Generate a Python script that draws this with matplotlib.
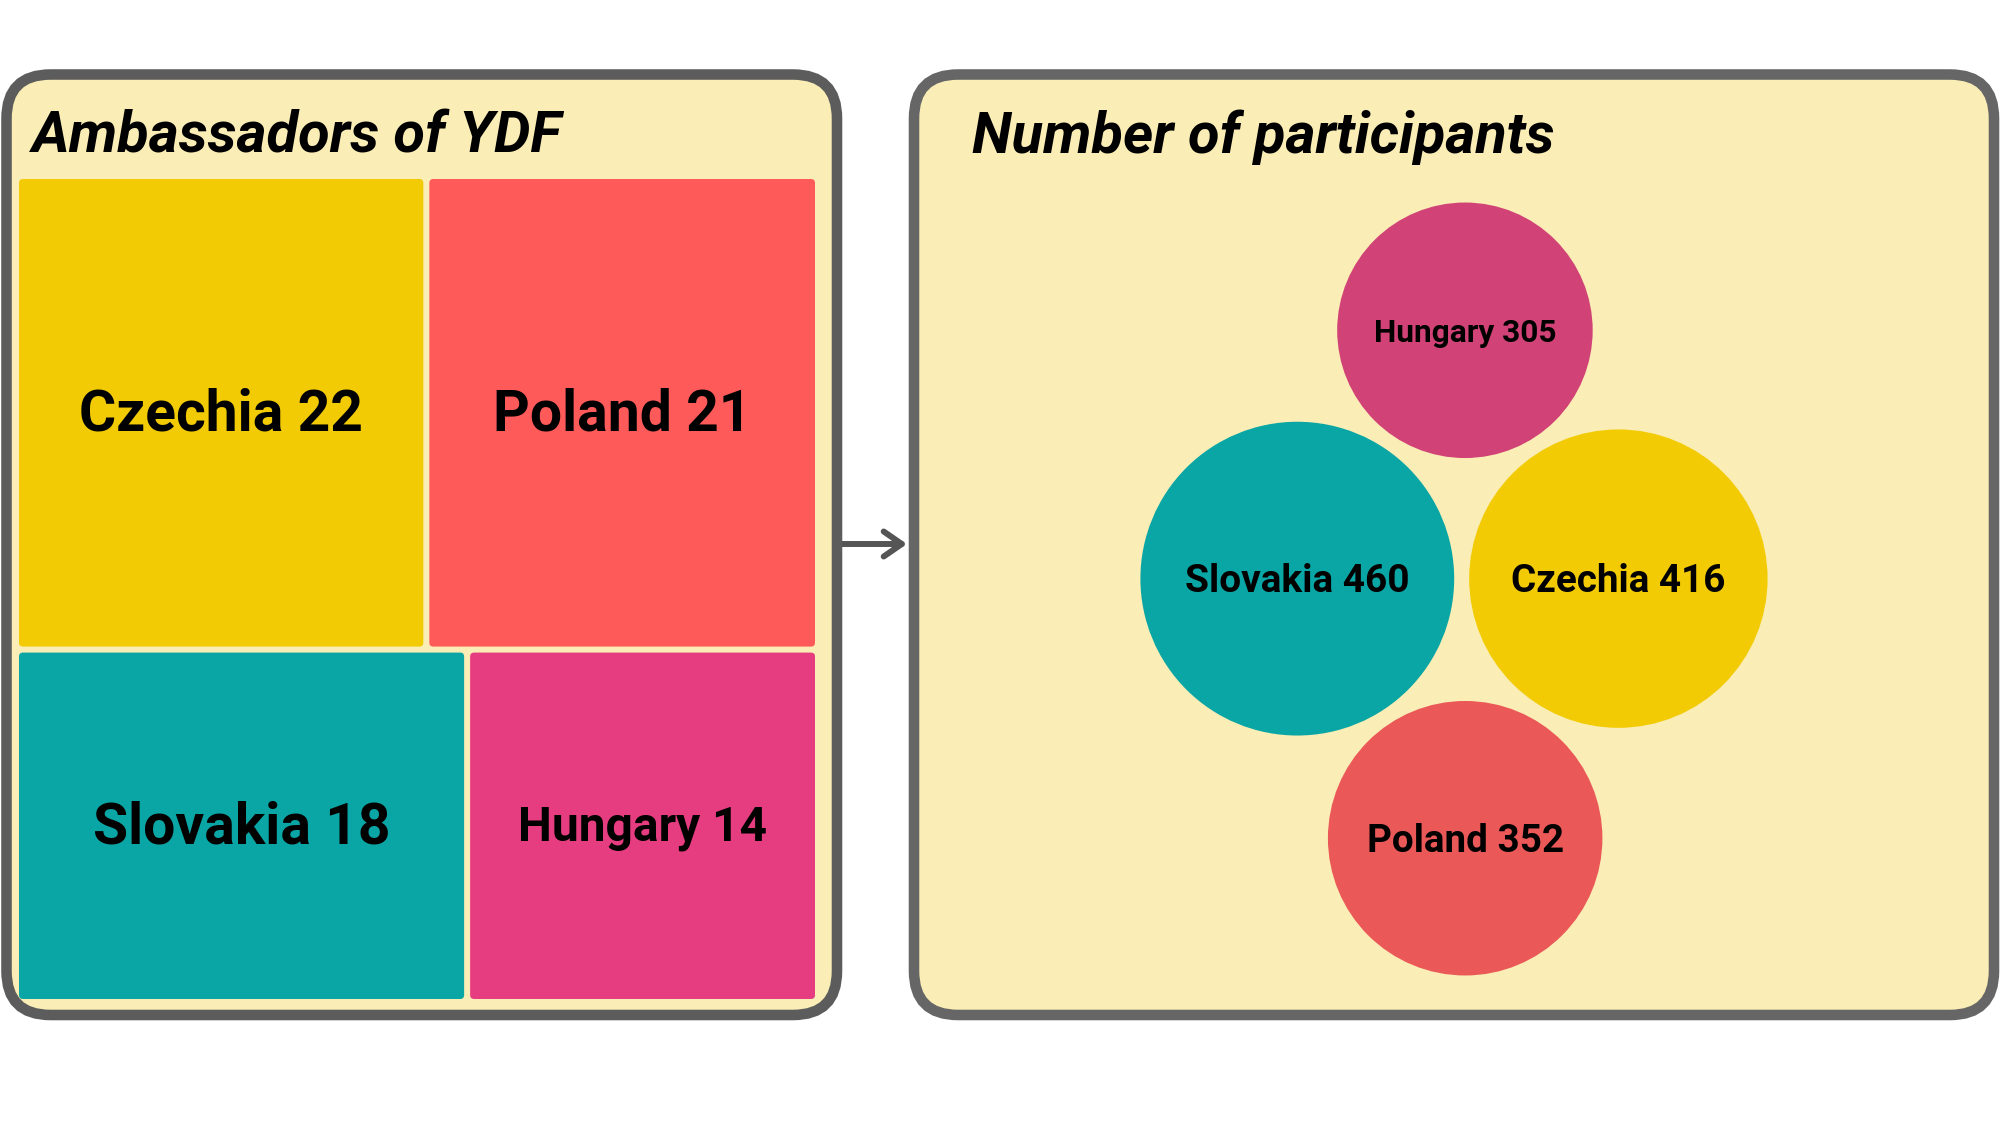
import numpy as np
import matplotlib
matplotlib.use("Agg")
import matplotlib.pyplot as plt
from matplotlib.patches import FancyBboxPatch, Circle

plt.rcParams['font.family'] = ['Roboto', 'DejaVu Sans']

# left panel: ambassadors per country (treemap)
amb_countries = ['Czechia', 'Poland', 'Slovakia', 'Hungary']
amb_values = [22, 21, 18, 14]
amb_colors = ['#F2CB05', '#FF5A5A', '#0AA6A6', '#E63C80']
amb_fontsize = [41, 41, 41, 34.5]

# right panel: participants per country (bubbles)
part_countries = ['Hungary', 'Slovakia', 'Czechia', 'Poland']
part_values = [305, 460, 416, 352]
part_colors = ['#D14377', '#0AA6A6', '#F2CB05', '#EB5858']
part_fontsize = [22.8, 28, 27.8, 27.8]

W, H = 2000, 1125
bg = '#FAEDB5'

fig = plt.figure(figsize=(20, 11.25), dpi=100)
ax = fig.add_axes([0, 0, 1, 1])
ax.set_xlim(0, W)
ax.set_ylim(H, 0)
ax.axis('off')


def panel(x0, y0, x1, y1, ec):
    p = FancyBboxPatch((x0, y0), x1 - x0, y1 - y0,
                       boxstyle='round,pad=0,rounding_size=44',
                       fc=bg, ec=ec, lw=7.6, zorder=1)
    ax.add_patch(p)


panel(6.5, 74.5, 837, 1015, '#5c5c5c')
panel(914, 74.5, 1994, 1015, '#666666')

ax.text(32, 137, 'Ambassadors of YDF', fontsize=41.6, fontweight='bold',
        fontstyle='italic', va='center', ha='left')
ax.text(972, 137, 'Number of participants', fontsize=41.6, fontweight='bold',
        fontstyle='italic', va='center', ha='left')

# arrow between panels
ax.annotate('', xy=(907, 544), xytext=(842, 544),
            arrowprops=dict(arrowstyle='->,head_length=1.3,head_width=0.9',
                            color='#555555', lw=4.3, capstyle='round',
                            joinstyle='round', shrinkA=0, shrinkB=0),
            zorder=0)

# treemap: two rows, squarified by hand
tx0, ty0, tx1, ty1 = 16, 176, 818, 1002
gap = 6
rows = [[0, 1], [2, 3]]
total = sum(amb_values)
y = ty0
for row in rows:
    rs = sum(amb_values[i] for i in row)
    h = (ty1 - ty0) * rs / total
    x = tx0
    for i in row:
        w = (tx1 - tx0) * amb_values[i] / rs
        ax.add_patch(FancyBboxPatch((x + gap / 2, y + gap / 2), w - gap, h - gap,
                                    boxstyle='round,pad=0,rounding_size=4',
                                    fc=amb_colors[i], ec='none', zorder=2))
        ax.text(x + w / 2, y + h / 2 + 2, f'{amb_countries[i]} {amb_values[i]}',
                ha='center', va='center', fontsize=amb_fontsize[i],
                fontweight='bold', zorder=3)
        x += w
    y += h

# bubbles: area ~ value, Slovakia & Czechia side by side,
# Hungary above and Poland below, touching both with a small gap
k = 7.315
g = 15
r = np.sqrt(np.array(part_values, dtype=float)) * k
iH, iS, iC, iP = 0, 1, 2, 3
pos = np.zeros((4, 2))
pos[iS] = [0, 0]
pos[iC] = [r[iS] + r[iC] + g, 0]


def tangent(i, sign):
    d1 = r[i] + r[iS] + g
    d2 = r[i] + r[iC] + g
    D = pos[iC, 0] - pos[iS, 0]
    a = (d1 ** 2 - d2 ** 2 + D ** 2) / (2 * D)
    hh = np.sqrt(d1 ** 2 - a ** 2)
    return [pos[iS, 0] + a, sign * hh]


pos[iH] = tangent(iH, -1)
pos[iP] = tangent(iP, 1)

xmin = (pos[:, 0] - r).min()
xmax = (pos[:, 0] + r).max()
ymin = (pos[:, 1] - r).min()
ymax = (pos[:, 1] + r).max()
pos[:, 0] += 1454 - (xmin + xmax) / 2
pos[:, 1] += 589 - (ymin + ymax) / 2

for i in range(len(part_values)):
    ax.add_patch(Circle(pos[i], r[i], fc=part_colors[i], ec='none', zorder=2))
    ax.text(pos[i, 0], pos[i, 1] + 3, f'{part_countries[i]} {part_values[i]}',
            ha='center', va='center', fontsize=part_fontsize[i],
            fontweight='bold', zorder=3)

fig.savefig('out.png', dpi=100, facecolor='white')
